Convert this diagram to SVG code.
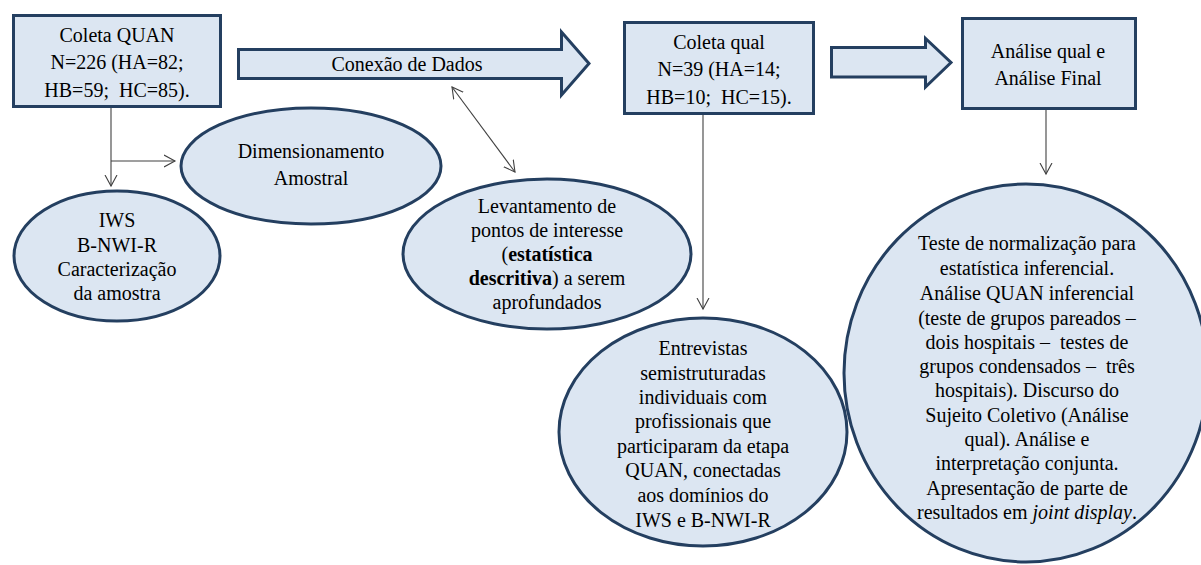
<svg xmlns="http://www.w3.org/2000/svg" width="1201" height="565" viewBox="0 0 1201 565">
<style>
.shape{fill:#DCE6F2;stroke:#243F60;stroke-width:3}
.t{font-family:"Liberation Serif","Times New Roman",serif;font-size:20px;fill:#000;text-anchor:middle}
.pre{white-space:pre}
.conn{stroke:#404040;stroke-width:1.1;fill:none}
</style>
<defs>
<marker id="arr" markerUnits="userSpaceOnUse" markerWidth="14" markerHeight="14" refX="11" refY="6" orient="auto-start-reverse" viewBox="0 0 14 12">
<path d="M0,0 L11,6 L0,12" fill="none" stroke="#404040" stroke-width="1.1"/>
</marker>
</defs>
<rect width="1201" height="565" fill="#fff"/>

<g id="coleta-quan">
<rect class="shape" x="13.5" y="15.5" width="207" height="91"/>
<text class="t" x="117" y="42">Coleta QUAN</text>
<text class="t" x="117" y="69">N=226 (HA=82;</text>
<text class="t pre" x="117" y="97">HB=59;  HC=85).</text>
</g>

<g id="conexao-dados">
<polygon class="shape" points="238.5,49.5 561.5,49.5 561.5,32 589,63.5 561.5,95 561.5,78.5 238.5,78.5"/>
<text class="t" x="407" y="71">Conexão de Dados</text>
</g>

<g id="coleta-qual">
<rect class="shape" x="624.5" y="22.5" width="189" height="91"/>
<text class="t" x="719" y="49">Coleta qual</text>
<text class="t" x="719" y="76">N=39 (HA=14;</text>
<text class="t pre" x="719" y="104">HB=10;  HC=15).</text>
</g>

<g id="seta-analise">
<polygon class="shape" points="831.5,47.5 925.5,47.5 925.5,38.5 951,62.5 925.5,87 925.5,77 831.5,77"/>
</g>

<g id="analise-final">
<rect class="shape" x="962.5" y="18.5" width="173" height="90"/>
<text class="t" x="1048" y="58">Análise qual e</text>
<text class="t" x="1048" y="85">Análise Final</text>
</g>

<g id="dimensionamento">
<ellipse class="shape" cx="311" cy="166" rx="130" ry="58"/>
<text class="t" x="311" y="158">Dimensionamento</text>
<text class="t" x="311" y="185">Amostral</text>
</g>

<g id="iws">
<ellipse class="shape" cx="117" cy="256" rx="103" ry="65"/>
<text class="t" x="117" y="227">IWS</text>
<text class="t" x="117" y="252">B-NWI-R</text>
<text class="t" x="117" y="276">Caracterização</text>
<text class="t" x="117" y="300">da amostra</text>
</g>

<g id="levantamento">
<ellipse class="shape" cx="547" cy="254" rx="144" ry="75"/>
<text class="t" x="547" y="213">Levantamento de</text>
<text class="t" x="547" y="237">pontos de interesse</text>
<text class="t" x="547" y="261">(<tspan font-weight="bold">estatística</tspan></text>
<text class="t" x="547" y="285"><tspan font-weight="bold">descritiva</tspan>) a serem</text>
<text class="t" x="547" y="309">aprofundados</text>
</g>

<g id="entrevistas">
<ellipse class="shape" cx="703" cy="432" rx="144" ry="114"/>
<text class="t" x="703" y="355">Entrevistas</text>
<text class="t" x="703" y="380">semistruturadas</text>
<text class="t" x="703" y="404">individuais com</text>
<text class="t" x="703" y="428">profissionais que</text>
<text class="t" x="703" y="453">participaram da etapa</text>
<text class="t" x="703" y="477">QUAN, conectadas</text>
<text class="t" x="703" y="502">aos domínios do</text>
<text class="t" x="703" y="527">IWS e B-NWI-R</text>
</g>

<g id="analise-integrada">
<ellipse class="shape" cx="1026" cy="373" rx="182" ry="189"/>
<text class="t" x="1027" y="250">Teste de normalização para</text>
<text class="t" x="1027" y="275">estatística inferencial.</text>
<text class="t" x="1027" y="300">Análise QUAN inferencial</text>
<text class="t" x="1027" y="325">(teste de grupos pareados –</text>
<text class="t pre" x="1027" y="349">dois hospitais –  testes de</text>
<text class="t pre" x="1027" y="373">grupos condensados –  três</text>
<text class="t" x="1027" y="397">hospitais). Discurso do</text>
<text class="t" x="1027" y="422">Sujeito Coletivo (Análise</text>
<text class="t" x="1027" y="446">qual). Análise e</text>
<text class="t" x="1027" y="470">interpretação conjunta.</text>
<text class="t" x="1027" y="495">Apresentação de parte de</text>
<text class="t" x="1027" y="519">resultados em <tspan font-style="italic">joint display</tspan>.</text>
</g>

<g id="connectors">
<line class="conn" x1="111" y1="108" x2="111" y2="186" marker-end="url(#arr)"/>
<line class="conn" x1="111" y1="161" x2="175" y2="161" marker-end="url(#arr)"/>
<line class="conn" x1="452" y1="87" x2="515" y2="172" marker-start="url(#arr)" marker-end="url(#arr)"/>
<line class="conn" x1="703" y1="115" x2="703" y2="309" marker-end="url(#arr)"/>
<line class="conn" x1="1046" y1="110" x2="1046" y2="174" marker-end="url(#arr)"/>
</g>
</svg>
